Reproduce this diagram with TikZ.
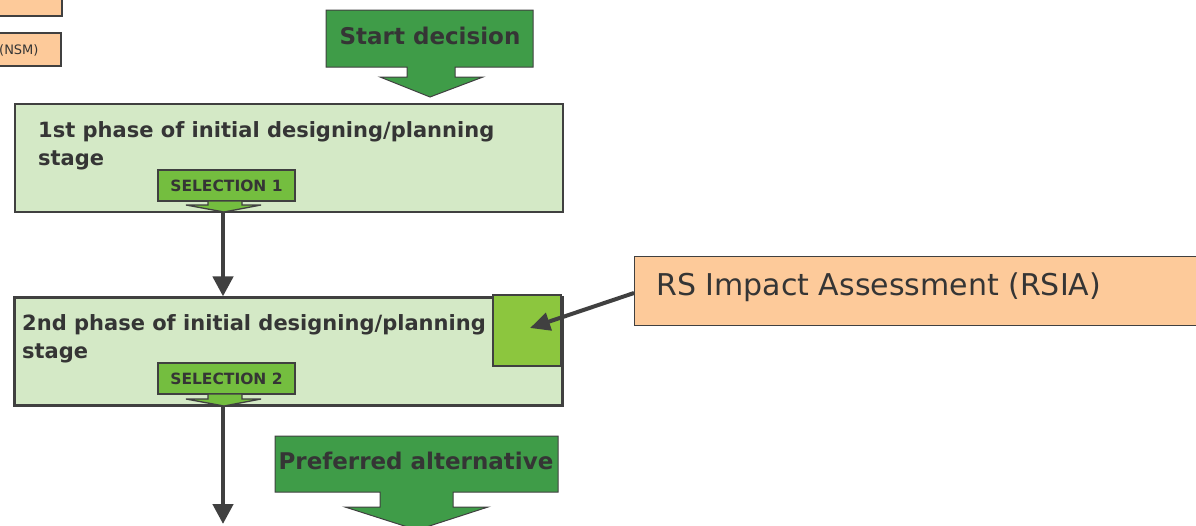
\documentclass[tikz,border=0pt]{standalone}
\usepackage{fontspec}
\setmainfont{DejaVu Sans}
\usetikzlibrary{arrows.meta}
\definecolor{lgreen}{HTML}{D4E9C6}
\definecolor{dgreen}{HTML}{3F9C48}
\definecolor{selgreen}{HTML}{74BE3F}
\definecolor{sqgreen}{HTML}{8CC63E}
\definecolor{peach}{HTML}{FDCA9A}
\definecolor{edge}{HTML}{404040}
\definecolor{txt}{HTML}{353535}
\tikzset{
  phasebox/.style={draw=edge, line width=2.2pt, fill=lgreen, minimum width=548pt, minimum height=108pt, inner sep=0pt},
  peachbox/.style={draw=edge, line width=1.2pt, fill=peach, inner sep=0pt},
  selbox/.style={draw=edge, line width=1.8pt, fill=selgreen, minimum width=137pt, minimum height=31pt, inner sep=0pt, font=\fontsize{15.5}{18}\selectfont\bfseries, text=txt},
  selstem/.style={draw=edge, line width=1.3pt, fill=selgreen},
  callout/.style={draw=edge, line width=1pt, fill=dgreen},
  title/.style={font=\fontsize{21}{24}\selectfont\bfseries, text=txt, inner sep=0pt, anchor=base west},
  bigtxt/.style={font=\fontsize{23}{26}\selectfont\bfseries, text=txt, inner sep=0pt},
  conn/.style={draw=edge, line width=4.5pt, -{Triangle[width=20pt,length=20pt]}},
}
\begin{document}
\begin{tikzpicture}[x=1pt,y=-1pt]
\useasboundingbox (0,0) rectangle (1196,525);
\clip (0,0) rectangle (1196,525);
% top-left partial boxes
\node[peachbox, minimum width=80pt, minimum height=30pt] (nsmA) at (22,1) {};
\node[peachbox, minimum width=82pt, minimum height=33pt] (nsmB) at (20,49.5) {};
\node[anchor=base west, inner sep=0pt, text=txt, font=\fontsize{13}{15}\selectfont] (nsmT) at (-1,54) {(NSM)};
% start decision callout
\draw[callout] (326,10) -- (533,10) -- (533,67) -- (455,67) -- (455,77) -- (483,77) -- (430,97) -- (380,77) -- (407,77) -- (407,67) -- (326,67) -- cycle;
\node[bigtxt] (start) at (430,36) {Start decision};
% phase boxes
\node[phasebox] (box1) at (289,158) {};
\node[title] (t1a) at (38,137) {1st phase of initial designing/planning};
\node[title] (t1b) at (38,165) {stage};
\node[phasebox] (box2) at (288.5,351.5) {};
\node[title] (t2a) at (22,330) {2nd phase of initial designing/planning};
\node[title] (t2b) at (22,358) {stage};
% selection callouts
\node[selbox] (sel1) at (226.5,185.5) {SELECTION 1};
\draw[selstem] (208,201) -- (242,201) -- (242,205) -- (261,205) -- (224,212) -- (186,205) -- (208,205) -- cycle;
\node[selbox] (sel2) at (226.5,378.5) {SELECTION 2};
\draw[selstem] (208,394) -- (242,394) -- (242,399) -- (261,399) -- (224,406) -- (186,399) -- (208,399) -- cycle;
% RSIA square and box
\node[draw=edge, line width=2pt, fill=sqgreen, minimum width=68pt, minimum height=71pt, inner sep=0pt] (sq) at (527,330.5) {};
\node[peachbox, minimum width=580pt, minimum height=69pt, anchor=north west] (rsia) at (634,256) {};
\node[anchor=base west, inner sep=0pt, text=txt, font=\fontsize{30}{33}\selectfont] (rsiat) at (656,295) {RS Impact Assessment (RSIA)};
\coordinate (sqin) at (530,328);
\draw[draw=edge, line width=4pt, -{Triangle[width=18pt,length=20pt]}] (rsia.west |- 0,293) -- (sqin);
% connectors
\draw[conn] (box1.south -| 223,0) -- (box2.north -| 223,0);
\coordinate (bottomend) at (223,524);
\draw[conn] (box2.south -| 223,0) -- (bottomend);
% preferred alternative callout
\draw[callout] (275,436) -- (558,436) -- (558,492) -- (453,492) -- (453,507) -- (488,507) -- (417,530) -- (345,507) -- (380,507) -- (380,492) -- (275,492) -- cycle;
\node[bigtxt] (pref) at (416,461) {Preferred alternative};
\end{tikzpicture}
\end{document}
